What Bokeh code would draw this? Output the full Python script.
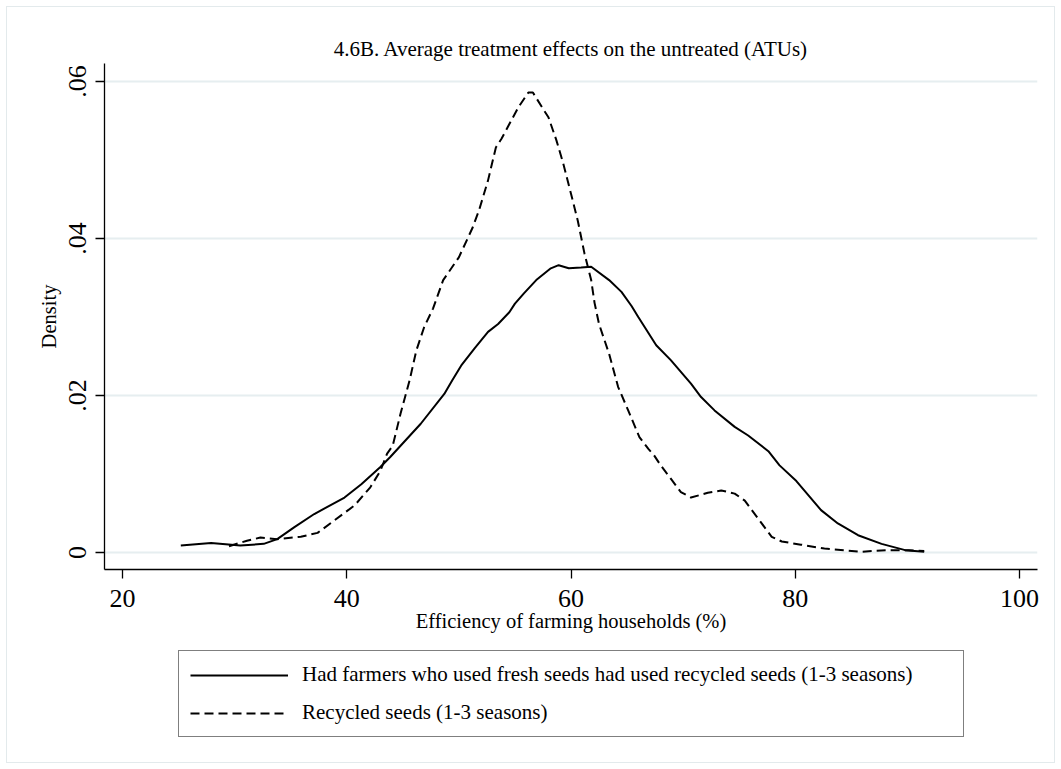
from bokeh.plotting import figure
from bokeh.layouts import column
from bokeh.models import Legend, LegendItem, FixedTicker, Range1d
from bokeh.embed import file_html
from bokeh.resources import INLINE

title_text = "4.6B. Average treatment effects on the untreated (ATUs)"
x_label = "Efficiency of farming households (%)"
y_label = "Density"
series_names = [
    "Had farmers who used fresh seeds had used recycled seeds (1-3 seasons)",
    "Recycled seeds (1-3 seasons)",
]
x_ticks = [20, 40, 60, 80, 100]
y_ticks = [0, 0.02, 0.04, 0.06]
y_tick_labels = ["0", ".02", ".04", ".06"]

atu_x = [25.2, 27.9, 30.5, 32.6, 33.8, 35.3, 37.1, 39.8, 41.3, 43.0, 43.9, 44.8,
         46.6, 48.7, 49.4, 50.2, 51.4, 52.6, 53.5, 54.5, 55.0, 55.8, 56.9, 58.2,
         58.9, 59.8, 60.9, 61.8, 63.4, 64.5, 65.4, 66.0, 67.6, 68.9, 70.7, 71.6,
         72.8, 74.6, 75.8, 77.6, 78.6, 80.1, 82.3, 83.8, 85.6, 87.7, 89.8, 91.5]
atu_y = [0.0009, 0.0012, 0.0009, 0.0011, 0.0017, 0.0032, 0.0049, 0.0070, 0.0087, 0.0109, 0.0122, 0.0136,
         0.0164, 0.0202, 0.0219, 0.0238, 0.0260, 0.0281, 0.0291, 0.0306, 0.0317, 0.0330, 0.0347, 0.0362,
         0.0366, 0.0362, 0.0363, 0.0364, 0.0347, 0.0332, 0.0314, 0.0300, 0.0264, 0.0245, 0.0215, 0.0198,
         0.0181, 0.0160, 0.0149, 0.0129, 0.0111, 0.0091, 0.0054, 0.0037, 0.0022, 0.0011, 0.0003, 0.0001]

rec_x = [29.5, 31.1, 32.3, 33.8, 35.9, 37.4, 38.9, 40.7, 42.1, 43.0, 43.6, 44.1,
         44.8, 45.6, 46.2, 46.9, 47.7, 48.6, 50.0, 51.2, 51.8, 52.6, 53.3, 53.8,
         55.3, 56.2, 56.6, 57.6, 58.0, 58.7, 59.3, 60.0, 60.6, 61.2, 61.8, 62.1,
         62.5, 63.4, 64.2, 65.1, 66.1, 66.9, 67.4, 68.0, 68.9, 69.8, 70.7, 72.2,
         73.4, 74.6, 75.5, 76.7, 77.9, 78.8, 80.5, 82.6, 85.9, 88.3, 90.1, 91.5]
rec_y = [0.0008, 0.0015, 0.0019, 0.0017, 0.0020, 0.0025, 0.0041, 0.0060, 0.0083, 0.0104, 0.0126, 0.0136,
         0.0177, 0.0219, 0.0257, 0.0287, 0.0311, 0.0347, 0.0376, 0.0413, 0.0436, 0.0474, 0.0516, 0.0527,
         0.0567, 0.0586, 0.0586, 0.0563, 0.0554, 0.0525, 0.0496, 0.0457, 0.0423, 0.0381, 0.0347, 0.0318,
         0.0291, 0.0253, 0.0211, 0.0181, 0.0147, 0.0132, 0.0124, 0.0111, 0.0094, 0.0077, 0.0070, 0.0076,
         0.0079, 0.0075, 0.0066, 0.0043, 0.0020, 0.0014, 0.0010, 0.0005, 0.0001, 0.0003, 0.0003, 0.0002]

FONT = "Liberation Serif"
LINE_DASH = "9 5"

# content area inside the faint outer frame: page x 7..1054, y 7..762
W = 1047
H1 = 641
H2 = 114

p = figure(width=W, height=H1,
           x_range=Range1d(18.395, 101.605), y_range=Range1d(-0.002166, 0.06229),
           output_backend="svg", toolbar_location=None,
           min_border_left=97, min_border_right=17, min_border_top=56, min_border_bottom=79)

p.background_fill_color = "white"
p.border_fill_color = "white"
p.outline_line_color = None

p.title.text = title_text
p.title.align = "center"
p.title.text_font = FONT
p.title.text_font_size = "21px"
p.title.text_font_style = "normal"
p.title.text_color = "black"
p.title.standoff = 5

r1 = p.line(atu_x, atu_y, line_color="black", line_width=2)
r2 = p.line(rec_x, rec_y, line_color="black", line_width=2, line_dash=LINE_DASH)

for ax in (p.xaxis[0], p.yaxis[0]):
    ax.axis_line_color = "black"
    ax.axis_line_width = 1.3
    ax.major_tick_line_color = "black"
    ax.major_tick_line_width = 1.3
    ax.major_tick_out = 9
    ax.major_tick_in = 0
    ax.minor_tick_line_color = None
    ax.major_label_text_font = FONT
    ax.major_label_text_font_size = "26px"
    ax.major_label_text_color = "black"
    ax.axis_label_text_font = FONT
    ax.axis_label_text_font_size = "20.5px"
    ax.axis_label_text_font_style = "normal"
    ax.axis_label_text_color = "black"

p.xaxis.ticker = FixedTicker(ticks=x_ticks)
p.xaxis.axis_label = x_label
p.xaxis.major_label_standoff = 11
p.xaxis.axis_label_standoff = 0

p.yaxis.ticker = FixedTicker(ticks=y_ticks)
p.yaxis.major_label_overrides = dict(zip(y_ticks, y_tick_labels))
p.yaxis.major_label_orientation = "vertical"
p.yaxis.axis_label = y_label
p.yaxis.major_label_standoff = 9
p.yaxis.axis_label_standoff = 7

p.xgrid.visible = False
p.ygrid.grid_line_color = "#e6eef0"
p.ygrid.grid_line_width = 2

# legend panel below the plot (its frame is aligned with the plot frame)
q = figure(width=W, height=H2, x_range=Range1d(0, 1), y_range=Range1d(0, 1),
           output_backend="svg", toolbar_location=None,
           x_axis_location=None, y_axis_location=None,
           min_border_left=0, min_border_right=0, min_border_top=0, min_border_bottom=0)
q.grid.visible = False
q.outline_line_color = None
q.background_fill_color = "white"
q.border_fill_color = "white"
# same series, lying outside this panel's ranges: only their legend keys are seen
k1 = q.line(atu_x, atu_y, line_color="black", line_width=2)
k2 = q.line(rec_x, rec_y, line_color="black", line_width=2, line_dash=LINE_DASH)

legend = Legend(
    items=[LegendItem(label=series_names[0], renderers=[k1]),
           LegendItem(label=series_names[1], renderers=[k2])],
    location=(74, 25), orientation="vertical",
    border_line_color="black", border_line_width=1.3,
    background_fill_color="white", background_fill_alpha=1,
    padding=11, spacing=13, glyph_width=98, glyph_height=24,
    label_height=24, label_standoff=14, label_width=650, margin=0,
    label_text_font=FONT, label_text_font_size="21px", label_text_color="black",
)
q.add_layout(legend, "center")

layout = column(p, q, spacing=0, margin=(6, 6, 6, 6),
                styles={"border": "1px solid #e3eaec", "background-color": "white"})

open("out.html", "w").write(file_html(layout, INLINE))
